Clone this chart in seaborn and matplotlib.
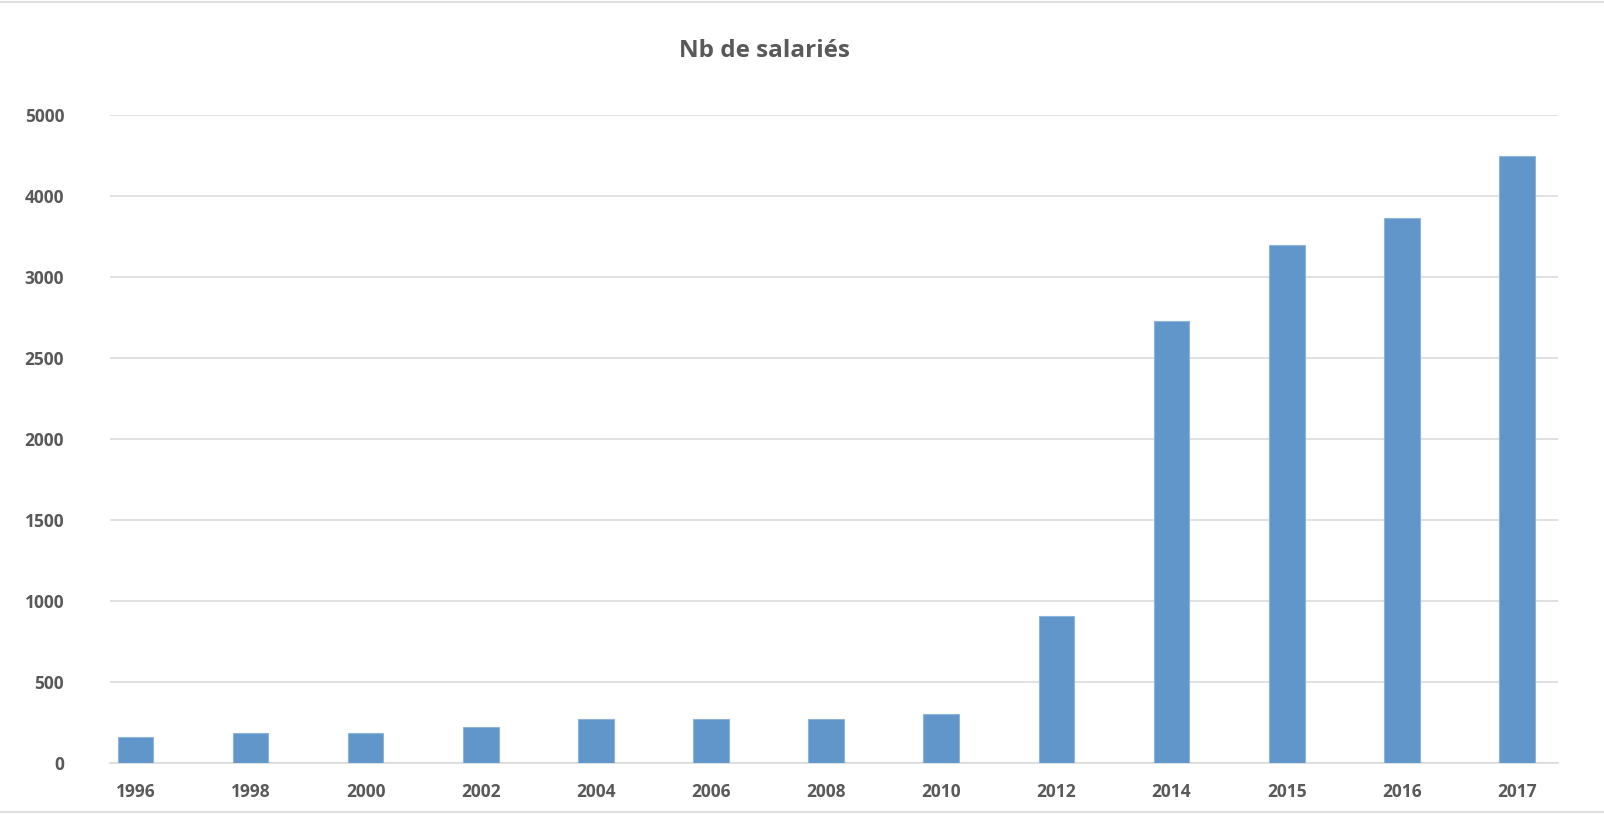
import matplotlib
matplotlib.use("Agg")
import matplotlib.pyplot as plt
import seaborn as sns
import pandas as pd
import numpy as np
from matplotlib.lines import Line2D

# data
years = ["1996", "1998", "2000", "2002", "2004", "2006", "2008",
         "2010", "2012", "2014", "2015", "2016", "2017"]
salaries = [164, 189, 189, 226, 274, 274, 274, 303, 910, 2729, 3394, 3724, 4490]
ytick_values = [0, 500, 1000, 1500, 2000, 2500, 3000, 4000, 5000]
title = "Nb de salariés"

bar_color = "#6096c9"
text_color = "#595959"
grid_color = "#d9d9d9"

# the axis of the original is linear up to 3000, then half as steep
def fwd(v):
    v = np.asarray(v, dtype=float)
    return np.where(v <= 3000, v, 3000 + (v - 3000) / 2)

def inv(p):
    p = np.asarray(p, dtype=float)
    return np.where(p <= 3000, p, 3000 + (p - 3000) * 2)

sns.set_theme(style="white")
plt.rcParams['font.family'] = ['Open Sans', 'DejaVu Sans']

df = pd.DataFrame({"year": years, "n": salaries})

fig = plt.figure(figsize=(16.04, 8.15), dpi=100)
ax = fig.add_axes([0.0686, 0.0634, 0.9027, 0.7955])
ax.set_yscale('function', functions=(fwd, inv))

sns.barplot(data=df, x="year", y="n", color=bar_color, width=0.31,
            saturation=1, edgecolor="#8fb4dc", linewidth=0.8, ax=ax, zorder=3)

ax.set_ylim(0, 5000)
ax.set_xlim(-0.22, 12.356)
ax.set_yticks(ytick_values)
ax.set_yticklabels([str(v) for v in ytick_values])
ax.yaxis.grid(True, color=grid_color, linewidth=1.1, zorder=0)
ax.xaxis.grid(False)
for s in ["top", "right", "left"]:
    ax.spines[s].set_visible(False)
ax.spines["bottom"].set_color(grid_color)
ax.spines["bottom"].set_linewidth(1.1)
ax.tick_params(axis="y", length=0, pad=33, labelsize=12.5, labelcolor=text_color)
ax.tick_params(axis="x", length=0, pad=14, labelsize=12.5, labelcolor=text_color)
for lab in ax.get_xticklabels() + ax.get_yticklabels():
    lab.set_fontweight("bold")
ax.set_xlabel("")
ax.set_ylabel("")

fig.text(764 / 1604, 1 - 51 / 815, title, ha="center", va="center",
         fontsize=17.5, fontweight="bold", color=text_color)

# thin chart frame lines (top and bottom)
fig.add_artist(Line2D([0, 1], [1 - 1.5 / 815, 1 - 1.5 / 815], color=grid_color,
                      linewidth=1.2, transform=fig.transFigure))
fig.add_artist(Line2D([0, 1], [1 - 811.5 / 815, 1 - 811.5 / 815], color=grid_color,
                      linewidth=1.2, transform=fig.transFigure))

plt.savefig("out.png", dpi=100, facecolor="white")
